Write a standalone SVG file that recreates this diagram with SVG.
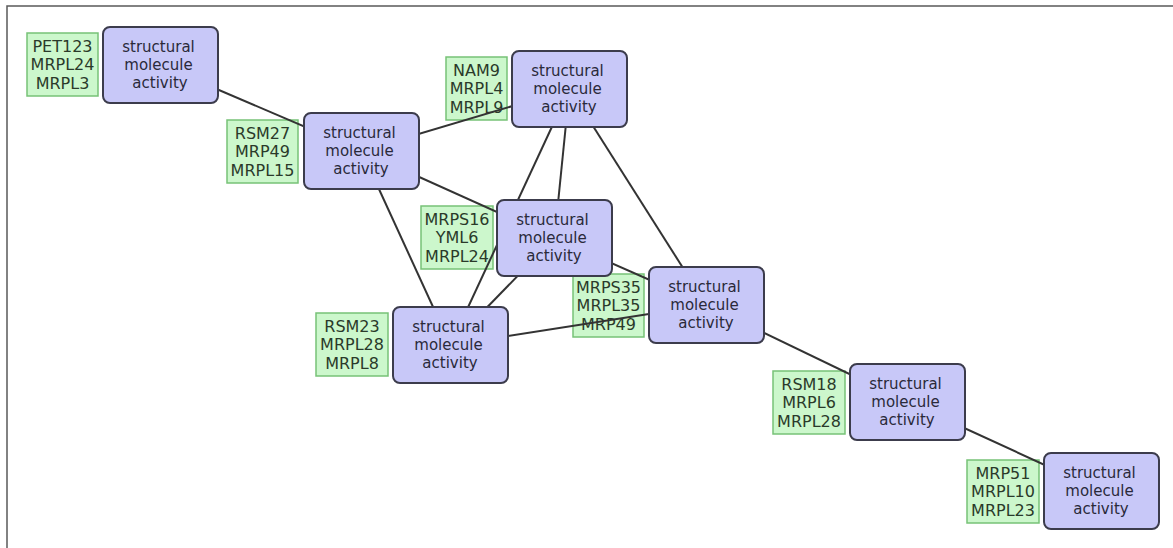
<svg xmlns="http://www.w3.org/2000/svg" width="1173" height="548" viewBox="0 0 1173 548">
<style>
.bg{fill:#ffffff}
.frame{fill:none;stroke:#5a5a5a;stroke-width:1.5}
.lab rect{fill:#ccf7cc;stroke:#77c277;stroke-width:1.5}
.lab text{font-family:"DejaVu Sans",sans-serif;font-size:16px;fill:#2a3a2a;text-anchor:middle}
.edge{stroke:#333333;stroke-width:2;fill:none}
.node rect{fill:#c8c8f8;stroke:#3c3c4c;stroke-width:2}
.node text{font-family:"DejaVu Sans",sans-serif;font-size:15px;fill:#2a2a3a;text-anchor:middle}
</style>
<rect class="bg" x="0" y="0" width="1173" height="548"/>
<path class="frame" d="M7,548 V6 H1173"/>
<g id="gene-labels">
<g id="label1" class="lab"><rect x="27" y="33" width="71" height="63"/><text x="62.5" y="52">PET123</text><text x="62.5" y="70">MRPL24</text><text x="62.5" y="89">MRPL3</text></g>
<g id="label2" class="lab"><rect x="227" y="120" width="71" height="63"/><text x="262.5" y="139">RSM27</text><text x="262.5" y="157">MRP49</text><text x="262.5" y="176">MRPL15</text></g>
<g id="label3" class="lab"><rect x="446" y="57" width="61" height="63"/><text x="476.5" y="76">NAM9</text><text x="476.5" y="94">MRPL4</text><text x="476.5" y="113">MRPL9</text></g>
<g id="label4" class="lab"><rect x="421" y="206" width="72" height="63"/><text x="457" y="225">MRPS16</text><text x="457" y="243">YML6</text><text x="457" y="262">MRPL24</text></g>
<g id="label5" class="lab"><rect x="573" y="274" width="71" height="63"/><text x="608.5" y="293">MRPS35</text><text x="608.5" y="311">MRPL35</text><text x="608.5" y="330">MRP49</text></g>
<g id="label6" class="lab"><rect x="316" y="313" width="72" height="63"/><text x="352" y="332">RSM23</text><text x="352" y="350">MRPL28</text><text x="352" y="369">MRPL8</text></g>
<g id="label7" class="lab"><rect x="773" y="371" width="72" height="63"/><text x="809" y="390">RSM18</text><text x="809" y="408">MRPL6</text><text x="809" y="427">MRPL28</text></g>
<g id="label8" class="lab"><rect x="967" y="460" width="72" height="63"/><text x="1003" y="479">MRP51</text><text x="1003" y="497">MRPL10</text><text x="1003" y="516">MRPL23</text></g>
</g>
<g id="connectors">
<line class="edge" x1="160.5" y1="65" x2="361.5" y2="151"/>
<line class="edge" x1="361.5" y1="151" x2="569.5" y2="89"/>
<line class="edge" x1="361.5" y1="151" x2="554.5" y2="238"/>
<line class="edge" x1="361.5" y1="151" x2="450.5" y2="345"/>
<line class="edge" x1="569.5" y1="89" x2="554.5" y2="238"/>
<line class="edge" x1="569.5" y1="89" x2="450.5" y2="345"/>
<line class="edge" x1="569.5" y1="89" x2="706.5" y2="305"/>
<line class="edge" x1="554.5" y1="238" x2="450.5" y2="345"/>
<line class="edge" x1="554.5" y1="238" x2="706.5" y2="305"/>
<line class="edge" x1="450.5" y1="345" x2="706.5" y2="305"/>
<line class="edge" x1="706.5" y1="305" x2="907.5" y2="402"/>
<line class="edge" x1="907.5" y1="402" x2="1101.5" y2="491"/>
</g>
<g id="node1" class="node"><rect x="103" y="27" width="115" height="76" rx="7"/><text x="158.5" y="52">structural</text><text x="158.5" y="70">molecule</text><text x="160" y="88">activity</text></g>
<g id="node2" class="node"><rect x="304" y="113" width="115" height="76" rx="7"/><text x="359.5" y="138">structural</text><text x="359.5" y="156">molecule</text><text x="361" y="174">activity</text></g>
<g id="node3" class="node"><rect x="512" y="51" width="115" height="76" rx="7"/><text x="567.5" y="76">structural</text><text x="567.5" y="94">molecule</text><text x="569" y="112">activity</text></g>
<g id="node4" class="node"><rect x="497" y="200" width="115" height="76" rx="7"/><text x="552.5" y="225">structural</text><text x="552.5" y="243">molecule</text><text x="554" y="261">activity</text></g>
<g id="node5" class="node"><rect x="649" y="267" width="115" height="76" rx="7"/><text x="704.5" y="292">structural</text><text x="704.5" y="310">molecule</text><text x="706" y="328">activity</text></g>
<g id="node6" class="node"><rect x="393" y="307" width="115" height="76" rx="7"/><text x="448.5" y="332">structural</text><text x="448.5" y="350">molecule</text><text x="450" y="368">activity</text></g>
<g id="node7" class="node"><rect x="850" y="364" width="115" height="76" rx="7"/><text x="905.5" y="389">structural</text><text x="905.5" y="407">molecule</text><text x="907" y="425">activity</text></g>
<g id="node8" class="node"><rect x="1044" y="453" width="115" height="76" rx="7"/><text x="1099.5" y="478">structural</text><text x="1099.5" y="496">molecule</text><text x="1101" y="514">activity</text></g>
</svg>
